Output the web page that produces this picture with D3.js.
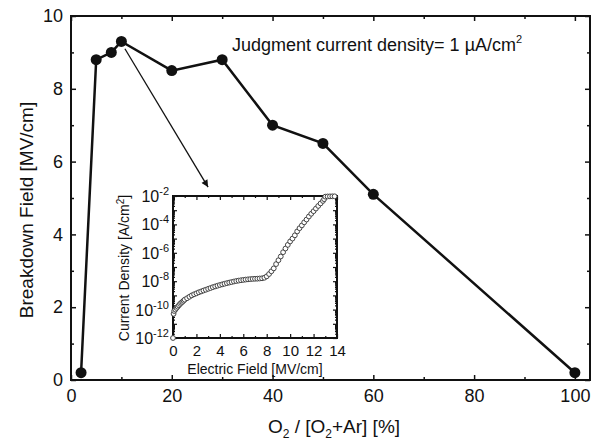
<!DOCTYPE html>
<html>
<head>
<meta charset="utf-8">
<script src="https://cdn.jsdelivr.net/npm/d3@7"></script>
<style>
body { margin: 0; background: #fff; }
text { font-family: "Liberation Sans", Arial, sans-serif; fill: #111; }
</style>
</head>
<body>
<script>
// main data: O2 ratio vs breakdown field
var o2Ratio = [2, 5, 8, 10, 20, 30, 40, 50, 60, 100];
var breakdown = [0.2, 8.8, 9.0, 9.3, 8.5, 8.8, 7.0, 6.5, 5.1, 0.2];
var xTicks = [0, 20, 40, 60, 80, 100];
var yTicks = [0, 2, 4, 6, 8, 10];

// inset data: J-E curve
var field = [0, 0.05, 0.1, 0.2, 0.3, 0.4, 0.5, 0.6, 0.7, 0.8, 0.9, 1.0, 1.2, 1.4, 1.6, 1.8, 2.0, 2.2, 2.4, 2.6,
  2.8, 3.0, 3.2, 3.4, 3.6, 3.8, 4.0, 4.2, 4.4, 4.6, 4.8, 5.0, 5.2, 5.4, 5.6, 5.8, 6.0, 6.2, 6.4, 6.6, 6.8,
  7.0, 7.2, 7.4, 7.6, 7.8, 8.0, 8.2, 8.4, 8.6, 8.8, 9.0, 9.2, 9.4, 9.6, 9.8, 10.0, 10.2, 10.4, 10.6, 10.8,
  11.0, 11.2, 11.4, 11.6, 11.8, 12.0, 12.2, 12.4, 12.6, 12.8, 12.9, 13.0, 13.2, 13.4, 13.6, 13.8];
var current = [1e-12, 5e-11, 8e-11, 1e-10, 1.3e-10, 1.6e-10, 2e-10, 2.5e-10, 3e-10, 3.5e-10, 4.2e-10, 5e-10,
  6.3e-10, 8e-10, 1e-9, 1.2e-9, 1.4e-9, 1.65e-9, 1.9e-9, 2.2e-9, 2.5e-9, 2.9e-9, 3.3e-9, 3.8e-9, 4.3e-9,
  4.8e-9, 5.4e-9, 6e-9, 6.6e-9, 7.3e-9, 8e-9, 8.7e-9, 9.5e-9, 1.03e-8, 1.1e-8, 1.17e-8, 1.23e-8, 1.3e-8,
  1.35e-8, 1.4e-8, 1.45e-8, 1.48e-8, 1.5e-8, 1.55e-8, 1.6e-8, 1.75e-8, 2.2e-8, 3.2e-8, 5e-8, 8e-8, 1.6e-7,
  3e-7, 5.5e-7, 1.1e-6, 2e-6, 3.6e-6, 6.3e-6, 1e-5, 1.7e-5, 3.2e-5, 5.4e-5, 8.5e-5, 1.4e-4, 2.2e-4, 3.6e-4,
  5.6e-4, 8.5e-4, 1.3e-3, 2e-3, 3e-3, 4.5e-3, 6e-3, 9e-3, 9.3e-3, 9.4e-3, 9.5e-3, 9.5e-3];
var insetXTicks = [0, 2, 4, 6, 8, 10, 12, 14];
var insetYTicks = [1e-12, 1e-10, 1e-8, 1e-6, 1e-4, 1e-2];

var svg = d3.select("body").append("svg").attr("width", 601).attr("height", 440);

var x = d3.scaleLinear().domain([0, 103]).range([71, 590]);
var y = d3.scaleLinear().domain([0, 10]).range([380, 16]);

function styleAxis(g) {
  g.select(".domain").remove();
  g.selectAll("line").attr("stroke", "#111").attr("stroke-width", 1.5);
}

// major + minor ticks on all four sides
svg.append("g").attr("transform", "translate(0,380)")
  .call(d3.axisBottom(x).tickValues(xTicks).tickSize(-5).tickPadding(9))
  .call(styleAxis).selectAll("text").style("font-size", "18px");
svg.append("g").attr("transform", "translate(0,380)")
  .call(d3.axisBottom(x).tickValues([10, 30, 50, 70, 90]).tickSize(-3).tickFormat(""))
  .call(styleAxis);
svg.append("g").attr("transform", "translate(0,16)")
  .call(d3.axisTop(x).tickValues(xTicks).tickSize(-5).tickFormat(""))
  .call(styleAxis);
svg.append("g").attr("transform", "translate(0,16)")
  .call(d3.axisTop(x).tickValues([10, 30, 50, 70, 90]).tickSize(-3).tickFormat(""))
  .call(styleAxis);
svg.append("g").attr("transform", "translate(71,0)")
  .call(d3.axisLeft(y).tickValues(yTicks).tickSize(-5).tickPadding(8))
  .call(styleAxis).selectAll("text").style("font-size", "18px");
svg.append("g").attr("transform", "translate(71,0)")
  .call(d3.axisLeft(y).tickValues([1, 3, 5, 7, 9]).tickSize(-3).tickFormat(""))
  .call(styleAxis);
svg.append("g").attr("transform", "translate(590,0)")
  .call(d3.axisRight(y).tickValues(yTicks).tickSize(-5).tickFormat(""))
  .call(styleAxis);
svg.append("g").attr("transform", "translate(590,0)")
  .call(d3.axisRight(y).tickValues([1, 3, 5, 7, 9]).tickSize(-3).tickFormat(""))
  .call(styleAxis);

// frame
svg.append("rect").attr("x", 71).attr("y", 16).attr("width", 519).attr("height", 364)
  .attr("fill", "none").attr("stroke", "#111").attr("stroke-width", 2);

// line + markers
var pts = o2Ratio.map(function(d, i) { return [d, breakdown[i]]; });
svg.append("path").datum(pts)
  .attr("d", d3.line().x(function(d) { return x(d[0]); }).y(function(d) { return y(d[1]); }))
  .attr("fill", "none").attr("stroke", "#111").attr("stroke-width", 2.5);
svg.selectAll("circle.main").data(pts).enter().append("circle")
  .attr("class", "main")
  .attr("cx", function(d) { return x(d[0]); })
  .attr("cy", function(d) { return y(d[1]); })
  .attr("r", 5.5).attr("fill", "#111");

// axis titles
svg.append("text").attr("transform", "translate(33,210) rotate(-90)")
  .attr("text-anchor", "middle").style("font-size", "19px").text("Breakdown Field [MV/cm]");
var xt = svg.append("text").attr("x", 334).attr("y", 433).attr("text-anchor", "middle").style("font-size", "19px");
xt.append("tspan").text("O");
xt.append("tspan").attr("dy", 5).style("font-size", "12px").text("2");
xt.append("tspan").attr("dy", -5).text(" / [O");
xt.append("tspan").attr("dy", 5).style("font-size", "12px").text("2");
xt.append("tspan").attr("dy", -5).text("+Ar] [%]");

// annotation
var ann = svg.append("text").attr("x", 232).attr("y", 51).style("font-size", "18px");
ann.append("tspan").text("Judgment current density= 1 \u00b5A/cm");
ann.append("tspan").attr("dy", -8).style("font-size", "11px").text("2");

// arrow
svg.append("defs").append("marker").attr("id", "ah")
  .attr("viewBox", "0 0 10 10").attr("refX", 10).attr("refY", 5)
  .attr("markerWidth", 9).attr("markerHeight", 7).attr("markerUnits", "userSpaceOnUse")
  .attr("orient", "auto")
  .append("path").attr("d", "M0,0 L10,5 L0,10 Z").attr("fill", "#111");
svg.append("line")
  .attr("x1", x(10.7)).attr("y1", y(9.1)).attr("x2", x(27.2)).attr("y2", y(5.3))
  .attr("stroke", "#111").attr("stroke-width", 1.3).attr("marker-end", "url(#ah)");

// ---- inset ----
var xi = d3.scaleLinear().domain([0, 14]).range([173, 337]);
var yi = d3.scaleLog().domain([1e-12, 1e-2]).range([338, 196]);

svg.append("rect").attr("x", 173).attr("y", 196).attr("width", 164).attr("height", 142)
  .attr("fill", "#fff");

var minorDecades = [];
for (var e = -12; e < -2; e++) {
  for (var m = 2; m < 10; m++) minorDecades.push(m * Math.pow(10, e));
}
var allDecades = [1e-12, 1e-11, 1e-10, 1e-9, 1e-8, 1e-7, 1e-6, 1e-5, 1e-4, 1e-3, 1e-2];

function thin(g) {
  g.select(".domain").remove();
  g.selectAll("line").attr("stroke", "#111").attr("stroke-width", 1.2);
}

svg.append("g").attr("transform", "translate(0,338)")
  .call(d3.axisBottom(xi).tickValues(insetXTicks).tickSize(-4).tickPadding(7))
  .call(thin).selectAll("text").style("font-size", "15px");
svg.append("g").attr("transform", "translate(0,338)")
  .call(d3.axisBottom(xi).tickValues([1, 3, 5, 7, 9, 11, 13]).tickSize(-2).tickFormat(""))
  .call(thin);
svg.append("g").attr("transform", "translate(0,196)")
  .call(d3.axisTop(xi).tickValues(insetXTicks).tickSize(-4).tickFormat(""))
  .call(thin);
svg.append("g").attr("transform", "translate(0,196)")
  .call(d3.axisTop(xi).tickValues([1, 3, 5, 7, 9, 11, 13]).tickSize(-2).tickFormat(""))
  .call(thin);

svg.append("g").attr("transform", "translate(173,0)")
  .call(d3.axisLeft(yi).tickValues(allDecades).tickSize(-4).tickFormat(""))
  .call(thin);
svg.append("g").attr("transform", "translate(173,0)")
  .call(d3.axisLeft(yi).tickValues(minorDecades).tickSize(-2).tickFormat(""))
  .call(thin);
svg.append("g").attr("transform", "translate(337,0)")
  .call(d3.axisRight(yi).tickValues(allDecades).tickSize(-4).tickFormat(""))
  .call(thin);
svg.append("g").attr("transform", "translate(337,0)")
  .call(d3.axisRight(yi).tickValues(minorDecades).tickSize(-2).tickFormat(""))
  .call(thin);

// log tick labels with superscripts
insetYTicks.forEach(function(v) {
  var t = svg.append("text").attr("x", 169).attr("y", yi(v) + 6)
    .attr("text-anchor", "end").style("font-size", "16px");
  t.append("tspan").text("10");
  t.append("tspan").attr("dy", -7).style("font-size", "11px").text(String(Math.round(Math.log10(v))));
});

svg.append("rect").attr("x", 173).attr("y", 196).attr("width", 164).attr("height", 142)
  .attr("fill", "none").attr("stroke", "#111").attr("stroke-width", 2);

// inset markers
var ipts = field.map(function(d, i) { return [d, current[i]]; });
svg.selectAll("circle.inset").data(ipts).enter().append("circle")
  .attr("class", "inset")
  .attr("cx", function(d) { return xi(d[0]); })
  .attr("cy", function(d) { return yi(d[1]); })
  .attr("r", 2.4).attr("fill", "#fff").attr("stroke", "#444").attr("stroke-width", 1);

// inset titles
var iy = svg.append("text").attr("transform", "translate(129,268) rotate(-90)")
  .attr("text-anchor", "middle").style("font-size", "14px");
iy.append("tspan").text("Current Density [A/cm");
iy.append("tspan").attr("dy", -5).style("font-size", "10px").text("2");
iy.append("tspan").attr("dy", 5).text("]");
svg.append("text").attr("x", 255).attr("y", 374).attr("text-anchor", "middle")
  .style("font-size", "14px").text("Electric Field [MV/cm]");
</script>
</body>
</html>
